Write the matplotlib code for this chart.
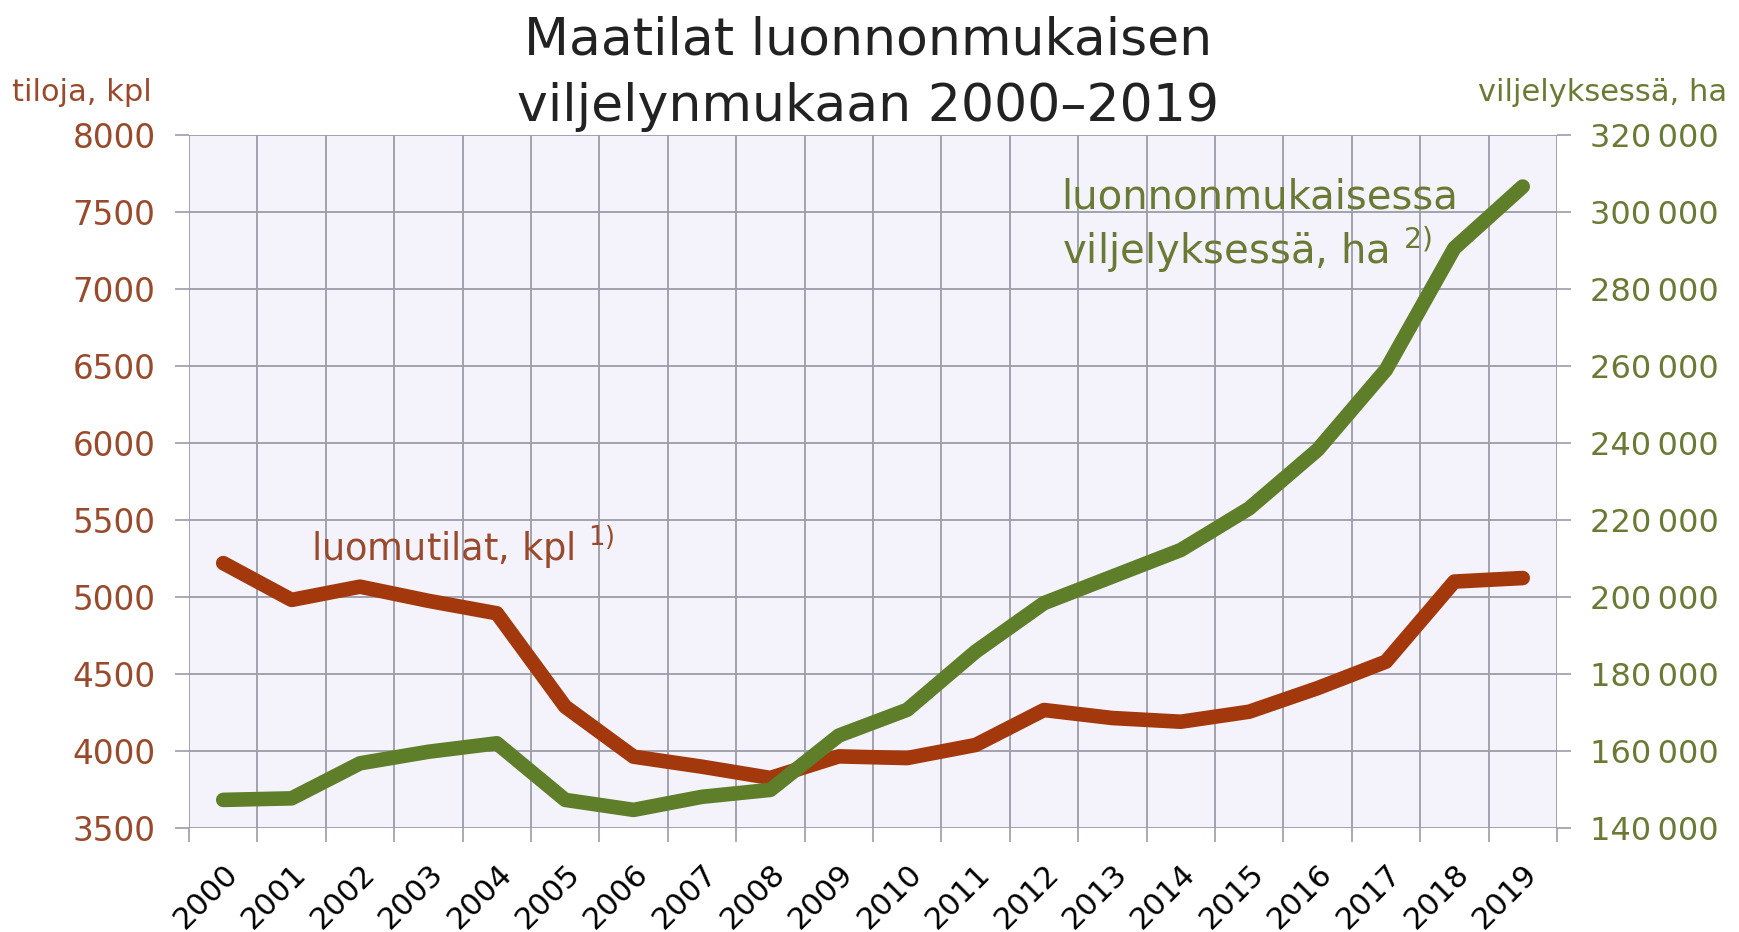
import matplotlib.pyplot as plt
from matplotlib.ticker import FuncFormatter

years = [str(y) for y in range(2000, 2020)]
farms = [5220, 4981, 5067, 4975, 4894, 4288, 3963, 3898, 3825, 3965,
         3954, 4039, 4266, 4214, 4190, 4255, 4408, 4580, 5100, 5123]
hectares = [147300, 147700, 156800, 159800, 162000, 147300, 144700, 148100, 149900, 164000,
            170700, 185800, 198400, 205300, 212200, 223000, 238200, 259000, 290600, 306600]

brown = '#A3380C'
green = '#5E7E2A'
brown_txt = '#9A4A2C'
green_txt = '#6A7A35'
grid_col = '#9C9CAA'

plt.rcParams['font.family'] = 'DejaVu Sans'

fig = plt.figure(figsize=(17.39, 9.32), dpi=100)
ax = fig.add_axes([0.1087, 0.1116, 0.7866, 0.7436])
ax.set_facecolor('#F4F3FB')
x = list(range(len(years)))

ax.plot(x, farms, color=brown, lw=10.5, solid_capstyle='round', solid_joinstyle='round', zorder=3)
ax.set_xlim(-0.5, len(years) - 0.5)
ax.set_ylim(3500, 8000)
ax.set_yticks(range(3500, 8001, 500))
ax.set_xticks([i - 0.5 for i in range(len(years) + 1)])
ax.set_xticklabels([])
ax.set_xticks(x, minor=True)
ax.set_xticklabels(years, minor=True, rotation=45, ha='right', va='top',
                   rotation_mode='anchor', fontsize=22)
ax.tick_params(axis='x', which='major', length=10, color=grid_col, width=1.2)
ax.tick_params(axis='x', which='minor', length=0, pad=22)
ax.tick_params(axis='y', length=10, color=grid_col, width=1.2, pad=14,
               labelsize=23.5, labelcolor=brown_txt)
ax.grid(True, which='major', color=grid_col, lw=1.3)
ax.set_axisbelow(True)
for s in ax.spines.values():
    s.set_visible(False)

ax2 = ax.twinx()
ax2.plot(x, hectares, color=green, lw=10.5, solid_capstyle='round', solid_joinstyle='round', zorder=4)
ax2.set_ylim(140000, 320000)
ax2.set_yticks(range(140000, 320001, 20000))
ax2.yaxis.set_major_formatter(FuncFormatter(lambda v, p: f'{int(v):,}'.replace(',', '\u2009')))
ax2.tick_params(axis='y', length=10, color=grid_col, width=1.2, pad=14,
                labelsize=23, labelcolor=green_txt)
for s in ax2.spines.values():
    s.set_visible(False)

fig.text(0.499, 0.957, 'Maatilat luonnonmukaisen', ha='center', va='center', fontsize=37.5, color='#222222')
fig.text(0.499, 0.885, 'viljelynmukaan 2000\u20132019', ha='center', va='center', fontsize=37.5, color='#222222')
fig.text(0.007, 0.901, 'tiloja, kpl', ha='left', va='center', fontsize=22, color=brown_txt)
fig.text(0.993, 0.901, 'viljelyksessä, ha', ha='right', va='center', fontsize=22, color=green_txt)

ax.text(1.28, 5325, r'luomutilat, kpl $^{1)}$', ha='left', va='center', fontsize=26.5, color=brown_txt, zorder=5)
ax.text(12.26, 7597, 'luonnonmukaisessa', ha='left', va='center', fontsize=29, color=green_txt, zorder=5)
ax.text(12.26, 7253, r'viljelyksessä, ha $^{2)}$', ha='left', va='center', fontsize=29, color=green_txt, zorder=5)

fig.savefig('out.png', dpi=100)
